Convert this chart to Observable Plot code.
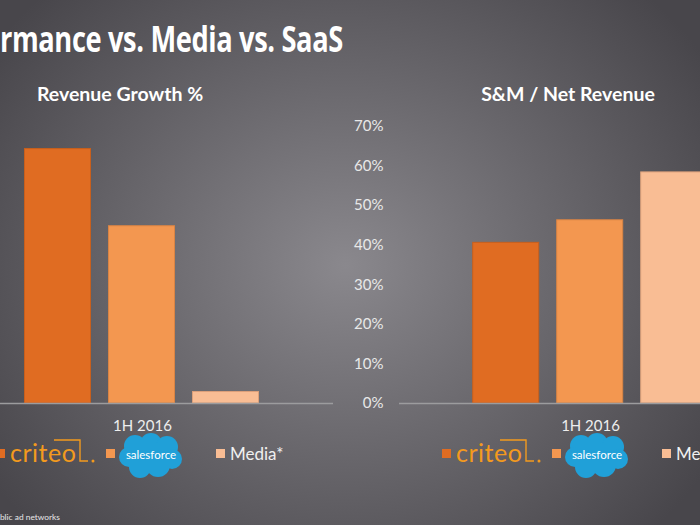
<!DOCTYPE html>
<html>
<head>
<meta charset="utf-8">
<script src="https://cdn.jsdelivr.net/npm/d3@7"></script>
<script src="https://cdn.jsdelivr.net/npm/@observablehq/plot@0.6"></script>
<style>
  html, body { margin: 0; padding: 0; }
  #stage {
    position: relative; width: 700px; height: 525px; overflow: hidden;
    background: radial-gradient(ellipse 430px 380px at 345px 265px, #8a888d 0%, #6c6a6f 45%, #48464b 100%);
    font-family: Lato, "Open Sans", sans-serif; color: #fff;
  }
  .abs { position: absolute; white-space: nowrap; }
  #title { font-family: "Open Sans", sans-serif; font-weight: 700; font-size: 36px; color: #fff; top: 14px; right: 357px; letter-spacing: -0.5px; transform-origin: right center; }
  .sub { font-weight: 700; font-size: 19.5px; color: #fff; top: 82px; transform: translateX(-50%); }
  .sw { position: absolute; width: 9px; height: 9px; }
  .leg { position: absolute; font-size: 17px; color: #f0f0f0; }
  .criteo { position: absolute; font-family: Lato, sans-serif; font-size: 25px; color: #f39a1e; letter-spacing: 0.5px; font-weight: 400; }
  #foot { font-size: 8.4px; color: #e6e6e6; top: 512px; right: 640px; }
  svg { max-width: none !important; }
</style>
</head>
<body>
<div id="stage">
  <div id="title" class="abs">Performance vs. Media vs. SaaS</div>
  <div class="abs sub" style="left:120px">Revenue Growth %</div>
  <div class="abs sub" style="left:568px">S&amp;M / Net Revenue</div>
  <div id="left" class="abs" style="left:-100px; top:100px; width:440px; height:340px"></div>
  <div id="right" class="abs" style="left:340px; top:100px; width:450px; height:340px"></div>
  <div id="legends"></div>
  <div id="foot" class="abs">* Public ad networks</div>
</div>
<script>
const period = "1H 2016";
const companies = ["Criteo", "Salesforce", "Media*"];
const revenueGrowth = [64.3, 44.8, 2.9];
const smNetRevenue = [40.6, 46.3, 58.4];
const yTicks = [0, 10, 20, 30, 40, 50, 60, 70];
const colors = ["#e06c22", "#f39750", "#f9bd94"];
const strokes = ["#c85f1c", "#d98444", "#dca07a"];

function makeChart(values, showY, marginLeft) {
  const data = companies.map((c, i) => ({period, company: c, value: values[i]}));
  return Plot.plot({
    width: marginLeft + 382,
    height: 340,
    marginTop: 26,
    marginBottom: 37,
    marginLeft,
    marginRight: 0,
    style: {background: "transparent", color: "#e8e8e8", fontFamily: "Lato, sans-serif", fontSize: "15px", overflow: "visible", maxWidth: "none"},
    fx: {domain: [period], padding: 0, label: null},
    x: {domain: companies, paddingInner: 0.214, paddingOuter: 0.875, axis: null},
    y: {domain: [0, 70], axis: null, label: null},
    color: {domain: companies, range: colors},
    marks: [
      showY ? Plot.axisY({ticks: yTicks, tickFormat: d => d + "%", tickSize: 0, tickPadding: 16, fontSize: 15, fill: "#e8e8e8", label: null}) : null,
      Plot.axisFx({anchor: "bottom", tickSize: 0, tickPadding: 17, fontSize: 15, fill: "#eeeeee", label: null}),
      Plot.barY(data, {fx: "period", x: "company", y: "value", fill: "company", stroke: (d, i) => strokes[i], strokeWidth: 1}),
      Plot.ruleY([0], {stroke: "#9c9c9e", strokeWidth: 1.5})
    ]
  });
}

document.getElementById("left").appendChild(makeChart(revenueGrowth, false, 50.5));
document.getElementById("right").appendChild(makeChart(smNetRevenue, true, 59.3));

// Fit the title so that "rmance vs. Media vs. SaaS" spans x = 0..343 like the slide
(function fitTitle() {
  const t = document.getElementById("title");
  const probe = document.createElement("span");
  probe.className = "abs";
  probe.style.font = getComputedStyle(t).font;
  probe.style.letterSpacing = getComputedStyle(t).letterSpacing;
  probe.style.visibility = "hidden";
  probe.style.left = "0px"; probe.style.top = "0px";
  probe.textContent = "rmance vs. Media vs. SaaS";
  document.getElementById("stage").appendChild(probe);
  const w = probe.getBoundingClientRect().width;
  probe.remove();
  t.style.transform = `scaleX(${343 / w})`;
})();

// Legends
const legendsEl = document.getElementById("legends");
function addLegend(x0) {
  const html = `
    <div class="sw" style="left:${x0}px; top:449px; background:${colors[0]}"></div>
    <div class="criteo" style="left:${x0 + 14}px; top:437px">criteo</div>
    <svg class="abs" style="left:${x0 + 14}px; top:430px" width="100" height="40">
      <path d="M44 10 H70 V31 H78" fill="none" stroke="#f39a1e" stroke-width="1.4"/>
      <circle cx="83" cy="31" r="1.5" fill="#f39a1e"/>
    </svg>
    <div class="sw" style="left:${x0 + 110}px; top:449px; background:${colors[1]}"></div>
    <svg class="abs" style="left:${x0 + 122}px; top:432px" width="66" height="48">
      <g fill="#20a0d8">
        <circle cx="17" cy="14" r="11"/>
        <circle cx="33" cy="12" r="11"/>
        <circle cx="49" cy="15" r="11"/>
        <circle cx="54" cy="27" r="10"/>
        <circle cx="40" cy="33" r="12"/>
        <circle cx="22" cy="35" r="11"/>
        <circle cx="11" cy="25" r="10"/>
        <rect x="12" y="14" width="40" height="22"/>
      </g>
      <text x="33" y="27" text-anchor="middle" fill="#fff" font-family="Lato, sans-serif" font-size="11.5">salesforce</text>
    </svg>
    <div class="sw" style="left:${x0 + 220}px; top:449px; background:${colors[2]}"></div>
    <div class="leg" style="left:${x0 + 234}px; top:443px">Media*</div>`;
  legendsEl.insertAdjacentHTML("beforeend", html);
}
addLegend(-4);
addLegend(442);
</script>
</body>
</html>
